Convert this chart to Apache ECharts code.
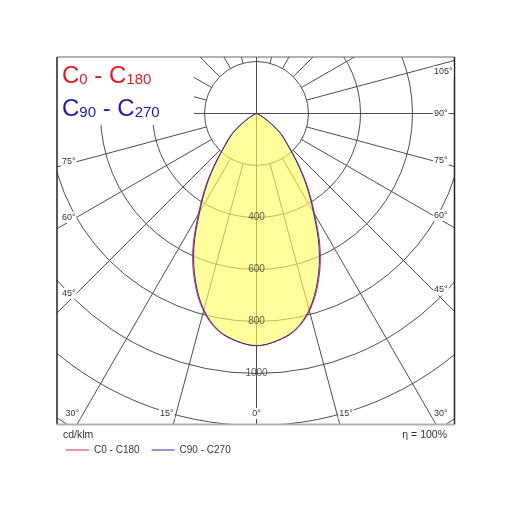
<!DOCTYPE html>
<html><head><meta charset="utf-8">
<script src="https://cdn.jsdelivr.net/npm/echarts@6/dist/echarts.min.js"></script>
<style>html,body{margin:0;padding:0;background:#fff}#c{width:512px;height:512px}</style>
</head><body><div id="c"></div>
<script>
// ---- data ----
const gammaAngles = [0,5,10,15,20,25,30,35,40,45,50,55,60,65,70,75,80,85,90];
const c0c180  = [893,879,849,787,693,580,447,340,244,171,126,72,33,15,7,3,1,0,0];
const c90c270 = [893,878,846,782,686,570,438,332,237,166,123,70,32,15,7,3,1,0,0];
const ringLabels = [400,600,800,1000];
const angleLabels = [0,15,30,45,60,75,90,105];
const gridAngles = [-165,-150,-135,-120,-105,-90,-75,-60,-45,-30,-15,0,15,30,45,60,75,90,105,120,135,150,165,180];
const seriesNames = ['C0 - C180','C90 - C270'];
const unitText = 'cd/klm';
const etaText = '\u03b7 = 100%';

// ---- style / layout ----
const FONT = '"Liberation Sans", Arial, sans-serif';
const RED = '#d42a3c', BLUE = '#2b2b9c', GRID = '#4d4d4d';
const FR = {l:57, t:57, r:454.5, b:424.5};
const LBL = {l:76.5, r:433, t:50, b:419};
const SMOOTH = 0.35;

// closed outline in [radius, angle] pairs: right half (negative angles), left half, back to the centre
function outline(vals){
  const out=[];
  for(let i=vals.length-1;i>0;i--) if(vals[i]>0) out.push([vals[i], -gammaAngles[i]]);
  for(let i=0;i<vals.length;i++) if(vals[i]>0) out.push([vals[i], gammaAngles[i]]);
  out.push([0, 90]);
  return out;
}
function curveSeries(name, vals, style, z){
  return {type:'custom', coordinateSystem:'polar', name, data:[[0,0]], z, silent:true,
    itemStyle:{color: style.stroke || '#ff0'},
    renderItem:(params, api)=>({type:'polygon', shape:{points: outline(vals).map(p=>api.coord(p)), smooth:SMOOTH},
      style: Object.assign({}, style)})};
}

const chart = echarts.init(document.getElementById('c'));
const series = [];
series.push(curveSeries('fill', c90c270, {fill:'rgba(255,255,95,0.62)', stroke:null}, 2));
series.push(curveSeries(seriesNames[0], c0c180, {fill:null, stroke:RED, lineWidth:1}, 4));
series.push(curveSeries(seriesNames[1], c90c270, {fill:null, stroke:BLUE, lineWidth:1}, 5));
gridAngles.forEach(a => series.push({type:'line', coordinateSystem:'polar', data:[[a%90===0?0:200, a],[1600, a]],
  symbol:'none', lineStyle:{color:GRID, width:1}, z:1, silent:true}));
series.push({type:'scatter', coordinateSystem:'polar', data: ringLabels.map(v=>[v,0]), symbolSize:1,
  itemStyle:{color:'rgba(0,0,0,0)'}, label:{show:true, position:'inside', formatter:p=>String(p.value[0]), fontSize:10, color:'#333', fontFamily:FONT}, z:6, silent:true});

chart.setOption({
  animation:false,
  polar:{center:[256.5,113.5], radius:416},
  angleAxis:{type:'value', min:-180, max:180, startAngle:90, clockwise:true,
    axisLine:{show:false}, axisTick:{show:false}, axisLabel:{show:false}, splitLine:{show:false}},
  radiusAxis:{type:'value', min:0, max:1600, interval:200,
    axisLine:{show:false}, axisTick:{show:false}, axisLabel:{show:false},
    splitLine:{show:true, lineStyle:{color:GRID, width:1}}},
  legend:{data:seriesNames.map(n=>({name:n, icon:'rect'})), left:61, top:440, itemWidth:23, itemHeight:1, itemGap:12,
    selectedMode:false, textStyle:{fontSize:10, color:'#333', fontFamily:FONT}, z:200},
  series
});

function px(r,a){ return chart.convertToPixel({seriesIndex:3}, [r,a]); }
const els = [];
// masks outside the frame and under the title block
[[0,0,512,FR.t],[0,FR.b,512,512-FR.b],[0,0,FR.l,512],[FR.r,0,512-FR.r,512],[FR.l,FR.t,137,68]].forEach(r=>{
  els.push({type:'rect', shape:{x:r[0],y:r[1],width:r[2],height:r[3]}, style:{fill:'#fff'}, z:100, silent:true});
});
// frame
els.push({type:'line', shape:{x1:FR.l,y1:FR.t,x2:FR.r,y2:FR.t}, style:{stroke:'#666',lineWidth:1}, z:120});
els.push({type:'line', shape:{x1:FR.l,y1:FR.t,x2:FR.l,y2:FR.b}, style:{stroke:'#222',lineWidth:1.5}, z:120});
els.push({type:'line', shape:{x1:FR.r,y1:FR.t,x2:FR.r,y2:FR.b}, style:{stroke:'#222',lineWidth:1.5}, z:120});
els.push({type:'line', shape:{x1:FR.l,y1:FR.b,x2:FR.r,y2:FR.b}, style:{stroke:'#b0b0b0',lineWidth:2}, z:120});
// angle labels (left ones at 90 and above sit under the title block)
angleLabels.forEach(a=>{
  const sides = a===0 ? [1] : (a>=90 ? [-1] : [1,-1]);
  sides.forEach(s=>{
    const ang=a*s, c=px(0,ang), e=px(1600,ang);
    const dx=e[0]-c[0], dy=e[1]-c[1];
    let t=Infinity, edge='';
    const tryT=(v,name)=>{ if(v>0 && v<t){t=v; edge=name;} };
    if(dx<-1e-6) tryT((LBL.l-c[0])/dx,'side');
    if(dx>1e-6) tryT((LBL.r-c[0])/dx,'side');
    if(dy>1e-6) tryT((LBL.b-c[1])/dy,'bottom');
    if(dy<-1e-6) tryT((LBL.t-c[1])/dy,'top');
    const x=c[0]+dx*t, y=c[1]+dy*t;
    const align = a===0 ? 'center' : (s>0 ? 'right' : 'left');
    const va = edge==='bottom' ? 'bottom' : (a>90 ? 'top' : 'middle');
    els.push({type:'text', x, y, z:150, silent:true,
      style:{text:a+'\u00b0', align, verticalAlign:va, fontSize:9, fontFamily:FONT, fill:'#333', backgroundColor:'#fff', padding:[1,1]}});
  });
});
// title block
const rich = (col)=>({a:{fontSize:24, fontFamily:FONT, fill:col, verticalAlign:'bottom'},
                      b:{fontSize:15, fontFamily:FONT, fill:col, verticalAlign:'bottom', padding:[0,0,1,0]}});
els.push({type:'text', x:62, y:64, z:150, silent:true,
  style:{text:'{a|C}{b|0}{a| - C}{b|180}', rich:rich('#dc1e23'), verticalAlign:'top'}});
els.push({type:'text', x:62, y:97.5, z:150, silent:true,
  style:{text:'{a|C}{b|90}{a| - C}{b|270}', rich:rich('#1e1eaa'), verticalAlign:'top'}});
// unit and efficiency
els.push({type:'text', x:63, y:429.5, z:150, silent:true, style:{text:unitText, fontSize:10.5, fontFamily:FONT, fill:'#333', verticalAlign:'top'}});
els.push({type:'text', x:447, y:429.5, z:150, silent:true, style:{text:etaText, fontSize:10.5, fontFamily:FONT, fill:'#333', align:'right', verticalAlign:'top'}});

chart.setOption({graphic:{elements:els}});
</script></body></html>
